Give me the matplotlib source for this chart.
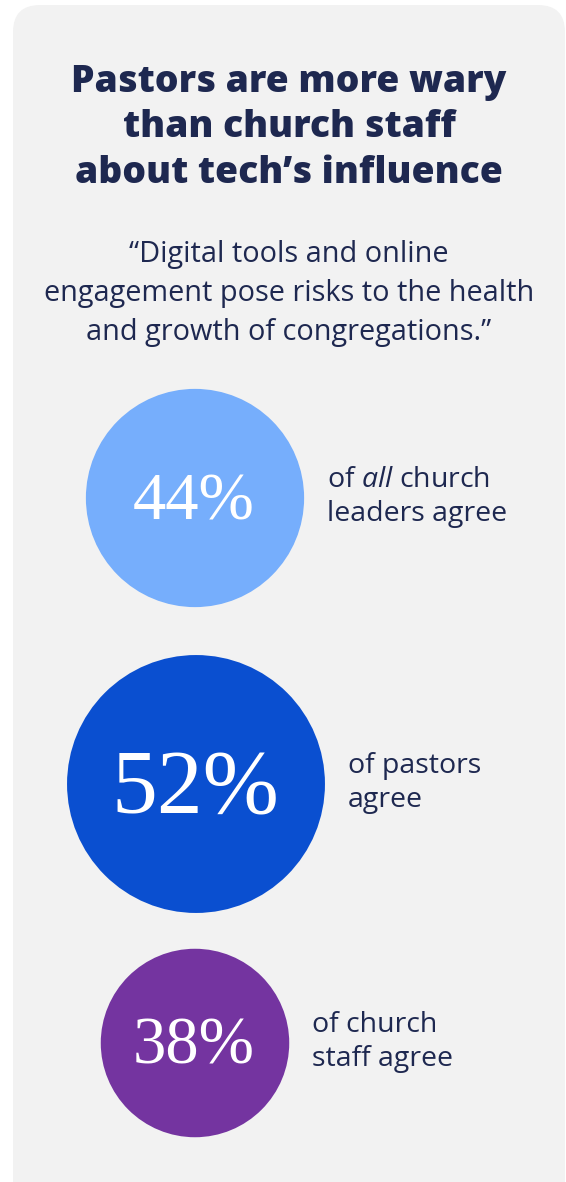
import matplotlib
matplotlib.use("Agg")
import matplotlib.pyplot as plt
from matplotlib.patches import Circle, FancyBboxPatch

# --- data -------------------------------------------------------------
values = [44, 52, 38]
value_labels = ["44%", "52%", "38%"]
descriptions = [
    ["of $\\mathit{all}$ church", "leaders agree"],
    ["of pastors", "agree"],
    ["of church", "staff agree"],
]
colors = ["#76aefc", "#0a4fd0", "#7434a0"]

title_lines = ["Pastors are more wary", "than church staff", "about tech\u2019s influence"]
quote_lines = [
    "\u201cDigital tools and online",
    "engagement pose risks to the health",
    "and growth of congregations.\u201d",
]

# --- styling ----------------------------------------------------------
NAVY = "#1e2850"
CARD = "#f2f2f2"
SANS = "Open Sans"
plt.rcParams["mathtext.fontset"] = "custom"
plt.rcParams["mathtext.rm"] = SANS
plt.rcParams["mathtext.it"] = SANS + ":italic"

W, H = 566, 1182
fig = plt.figure(figsize=(W / 100, H / 100), dpi=100, facecolor="white")
ax = fig.add_axes([0, 0, 1, 1])
ax.set_xlim(0, W)
ax.set_ylim(H, 0)
ax.axis("off")

# rounded card
ax.add_patch(FancyBboxPatch((13, 5), 552, 1260,
                            boxstyle="round,pad=0,rounding_size=27",
                            facecolor=CARD, edgecolor="none"))

# title
for y, line in zip([92, 137, 183], title_lines):
    ax.text(289, y, line, ha="center", va="baseline", fontsize=26.8,
            fontweight="heavy", family=SANS, color=NAVY)

# quote
for y, line in zip([262, 301, 340], quote_lines):
    ax.text(289, y, line, ha="center", va="baseline", fontsize=20.8,
            family=SANS, color=NAVY)

# bubbles: radius proportional to the value
scale = 2.48
centers = [(195, 498), (196, 784), (195, 1043)]
num_sizes = [48, 66, 48]
num_base = [520, 813, 1063]
for v, lab, desc, c, (cx, cy), fs, yb in zip(values, value_labels, descriptions,
                                             colors, centers, num_sizes, num_base):
    r = v * scale
    ax.add_patch(Circle((cx, cy), r, facecolor=c, edgecolor="none"))
    ax.text(cx - 1, yb, lab, ha="center", va="baseline", fontsize=fs,
            family="Liberation Serif", color="white")
    tx = cx + r + 23
    ax.text(tx, cy - 11, desc[0], ha="left", va="baseline", fontsize=20.5,
            family=SANS, color=NAVY)
    ax.text(tx, cy + 23, desc[1], ha="left", va="baseline", fontsize=20.5,
            family=SANS, color=NAVY)

fig.savefig("out.png", dpi=100, facecolor="white")
